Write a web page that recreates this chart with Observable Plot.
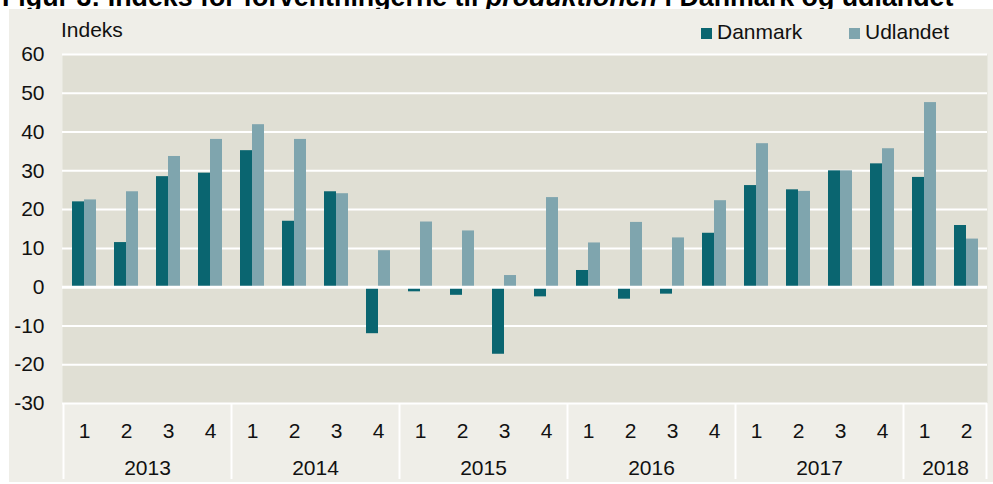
<!DOCTYPE html>
<html>
<head>
<meta charset="utf-8">
<script src="https://cdn.jsdelivr.net/npm/d3@7"></script>
<script src="https://cdn.jsdelivr.net/npm/@observablehq/plot@0.6"></script>
<style>
  html, body { margin: 0; padding: 0; background: #ffffff; overflow: hidden; }
  #wrap { position: relative; width: 993px; height: 484px; background: #ffffff; font-family: "Liberation Sans", Arial, sans-serif; color: #111; }
  #bg { position: absolute; left: 9px; top: 9px; width: 984px; height: 473px; background: #efeee8; }
  #wrap svg { position: absolute; left: 0; top: 0; }
  .title { position: absolute; left: 2px; top: -16.5px; font-size: 26.8px; line-height: 27px; font-weight: bold; white-space: nowrap; color: #000; }
  .txt { position: absolute; font-size: 21px; line-height: 21px; white-space: nowrap; color: #111; }
  .sw { position: absolute; width: 11px; height: 11px; }
</style>
</head>
<body>
<div id="wrap"></div>
<script>
const years = ["2013", "2014", "2015", "2016", "2017", "2018"];
const quartersPerYear = [4, 4, 4, 4, 4, 2];
const seriesNames = ["Danmark", "Udlandet"];
const seriesColors = ["#0a6570", "#7fa5ae"];
const danmark = [22.0, 11.5, 28.5, 29.4, 35.2, 17.0, 24.6, -12.0, -1.2, -2.1, -17.3, -2.5, 4.3, -3.1, -1.8, 13.9, 26.2, 25.1, 30.0, 31.8, 28.3, 15.9];
const udlandet = [22.5, 24.6, 33.7, 38.1, 41.9, 38.1, 24.1, 9.4, 16.8, 14.5, 3.0, 23.1, 11.4, 16.7, 12.7, 22.3, 37.0, 24.7, 30.0, 35.7, 47.6, 12.4];
const yTicks = [-30, -20, -10, 0, 10, 20, 30, 40, 50, 60];
const titleHTML = "Figur 3: Indeks for forventningerne til <i>produktionen</i> i Danmark og udlandet";
const yUnitLabel = "Indeks";

// build category table
const rows = [];
const yearInfo = [];
years.forEach((yr, i) => {
  const start = rows.length;
  for (let q = 1; q <= quartersPerYear[i]; q++) {
    rows.push({key: yr + "-" + q, year: yr, q: String(q)});
  }
  yearInfo.push({year: yr, first: rows[start].key, mid: rows[start + quartersPerYear[i] / 2 - 1].key, last: rows[rows.length - 1].key});
});
rows.forEach((r, i) => { r.dk = danmark[i]; r.ud = udlandet[i]; });
const keys = rows.map(r => r.key);

const W = 993, H = 484;
const yMin = -30, yMax = 60;
const belowAxis = -49.6; // extent of separator rules into the axis area (data units)

const wrap = document.getElementById("wrap");

const title = document.createElement("div");
title.className = "title";
title.innerHTML = titleHTML;
wrap.appendChild(title);

const bg = document.createElement("div");
bg.id = "bg";
wrap.appendChild(bg);

const plot = Plot.plot({
  width: W,
  height: H,
  marginTop: 54,
  marginBottom: 81,
  marginLeft: 62,
  marginRight: 6,
  style: {fontFamily: "Liberation Sans, Arial, sans-serif", fontSize: "21px", color: "#111", background: "transparent", overflow: "visible"},
  x: {domain: keys, padding: 0, label: null},
  y: {domain: [yMin, yMax], ticks: yTicks, label: null},
  marks: [
    Plot.frame({fill: "#e0dfd4", stroke: null}),
    Plot.ruleY(yTicks.filter(t => t !== 0), {stroke: "#ffffff", strokeWidth: 2}),
    Plot.barY(rows, {x: "key", y: "dk", fill: seriesColors[0], dx: -6, insetLeft: 15, insetRight: 15}),
    Plot.barY(rows, {x: "key", y: "ud", fill: seriesColors[1], dx: 6, insetLeft: 15, insetRight: 15}),
    Plot.ruleY([0], {stroke: "#ffffff", strokeWidth: 3}),
    Plot.axisY({ticks: yTicks, tickSize: 0, tickPadding: 18, fontSize: 21, label: null, tickFormat: d => String(d)}),
    Plot.axisX({tickSize: 0, tickPadding: 20, fontSize: 21, label: null, tickFormat: k => k.split("-")[1]}),
    // year separators
    Plot.ruleX(yearInfo, {x: "first", y1: yMin, y2: belowAxis, dx: -21, stroke: "#ffffff", strokeWidth: 2}),
    Plot.ruleX(yearInfo.slice(-1), {x: "last", y1: yMin, y2: belowAxis, dx: 20, stroke: "#ffffff", strokeWidth: 2}),
    Plot.text(yearInfo, {x: "mid", y: yMin, dx: 21, dy: 65, text: "year", fontSize: 21, lineAnchor: "middle", fill: "#111"})
  ]
});
wrap.appendChild(plot);

function addText(str, left, baseline) {
  const d = document.createElement("div");
  d.className = "txt";
  d.style.left = left + "px";
  d.style.top = (baseline - 17.8) + "px";
  d.textContent = str;
  wrap.appendChild(d);
}
addText(yUnitLabel, 61, 36.7);

const swatchX = [701, 849];
seriesNames.forEach((name, i) => {
  const s = document.createElement("div");
  s.className = "sw";
  s.style.left = swatchX[i] + "px";
  s.style.top = "27.5px";
  s.style.background = seriesColors[i];
  wrap.appendChild(s);
  addText(name, swatchX[i] + 16, 38.3);
});
</script>
</body>
</html>
